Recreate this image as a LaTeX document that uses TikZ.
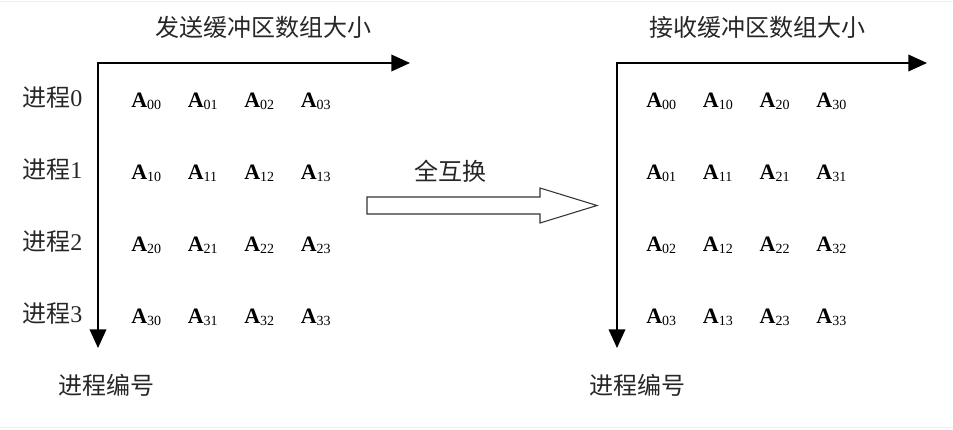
\documentclass[tikz,border=0pt]{standalone}
\usepackage{fontspec}
\setmainfont{Liberation Serif}
\newfontfamily\cjk{Noto Sans CJK SC}
\usetikzlibrary{arrows.meta,calc}
\newcommand{\acell}[2]{\textbf{A}\raisebox{-2pt}{\fontsize{10.5}{12}\selectfont #1#2}}
\tikzset{
  lab/.style={font=\fontsize{18}{21}\selectfont\cjk,text=black!85,inner sep=0pt},
  cell/.style={font=\fontsize{16.5}{18}\selectfont,anchor=base west,inner sep=0pt},
  axis/.style={line width=1.1pt,{Triangle[length=14pt,width=12.5pt]}-{Triangle[length=14pt,width=12.5pt]}}
}

\begin{document}
\begin{tikzpicture}[x=0.75pt,y=-0.75pt]
\useasboundingbox (0,0) rectangle (953,429);
\draw[gray!12] (0,1.5) -- (953,1.5);
\draw[gray!12] (0,427.5) -- (953,427.5);
% send buffer
\coordinate (so) at (98,63);
\coordinate (sx) at (410,63);
\coordinate (sy) at (98,348);
\draw[axis] (sx) -- (so) -- (sy);
\node[lab] (stitle) at (263,27) {发送缓冲区数组大小};
\node[lab] (sproc) at (106,385) {进程编号};
\foreach \i in {0,...,3} {
  \node[lab,anchor=west] (p\i) at (22,{98+71.7*\i}) {进程\rmfamily\i};
  \foreach \j in {0,...,3}
    \node[cell] (s\i\j) at ({131+56.5*\j},{107+72*\i}) {\acell{\i}{\j}};
}
% receive buffer
\coordinate (ro) at (617,63);
\coordinate (rx) at (927,63);
\coordinate (ry) at (617,348);
\draw[axis] (rx) -- (ro) -- (ry);
\node[lab] (rtitle) at (757,27) {接收缓冲区数组大小};
\node[lab] (rproc) at (637,385) {进程编号};
\foreach \i in {0,...,3}
  \foreach \j in {0,...,3}
    \node[cell] (r\i\j) at ({646+56.7*\j},{107+72*\i}) {\acell{\j}{\i}};
% all-to-all
\coordinate (xtail) at (367,205.5);
\coordinate (xtip) at (597,205.5);
\draw[line width=0.8pt,black!80] ($(xtail)+(0,-8.5)$) -- (540,197) -- (540,188) -- (xtip)
  -- (540,223) -- (540,214) -- ($(xtail)+(0,8.5)$) -- cycle;
\node[lab] (xlabel) at (450,171) {全互换};
\end{tikzpicture}
\end{document}
